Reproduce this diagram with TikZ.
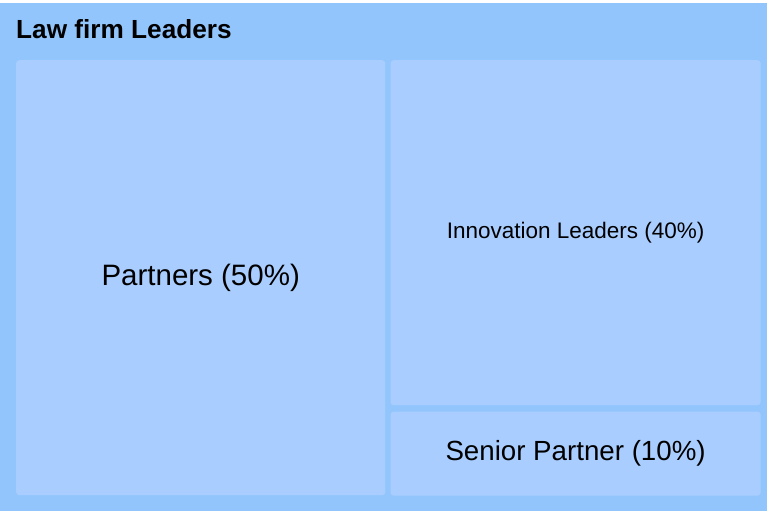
\documentclass[tikz,border=0pt]{standalone}
\usepackage{fontspec}
\setmainfont{Liberation Sans}
\usetikzlibrary{positioning}

\definecolor{outerblue}{RGB}{147,197,253}
\definecolor{cellblue}{RGB}{169,205,254}

\begin{document}
\begin{tikzpicture}[x=1pt, y=-1pt, node distance=5pt,
	cell/.style={fill=cellblue, rounded corners=3pt, inner sep=0pt, text=black},
	big/.style={font=\fontsize{#1}{32}\selectfont},
	small/.style={font=\fontsize{22.5}{26}\selectfont}]
	\useasboundingbox (0,0) rectangle (768,511);
	\fill[outerblue] (0,3) rectangle (767,511);

	\node[anchor=base west, inner sep=0pt, font=\bfseries\fontsize{26.2}{30}\selectfont] (title) at (16,39) {Law firm Leaders};
	\node[cell, big=29.5, minimum width=369pt, minimum height=435pt, anchor=north west] (partners) at (16,60) {Partners (50\%)};
	\node[cell, small, minimum width=370pt, minimum height=345pt, below right=0pt and 5pt of partners.north east] (innov) {Innovation Leaders (40\%)};
	\node[cell, big=27.7, minimum width=370pt, minimum height=84pt, below=6pt of innov] (senior) {Senior Partner (10\%)};
\end{tikzpicture}
\end{document}
